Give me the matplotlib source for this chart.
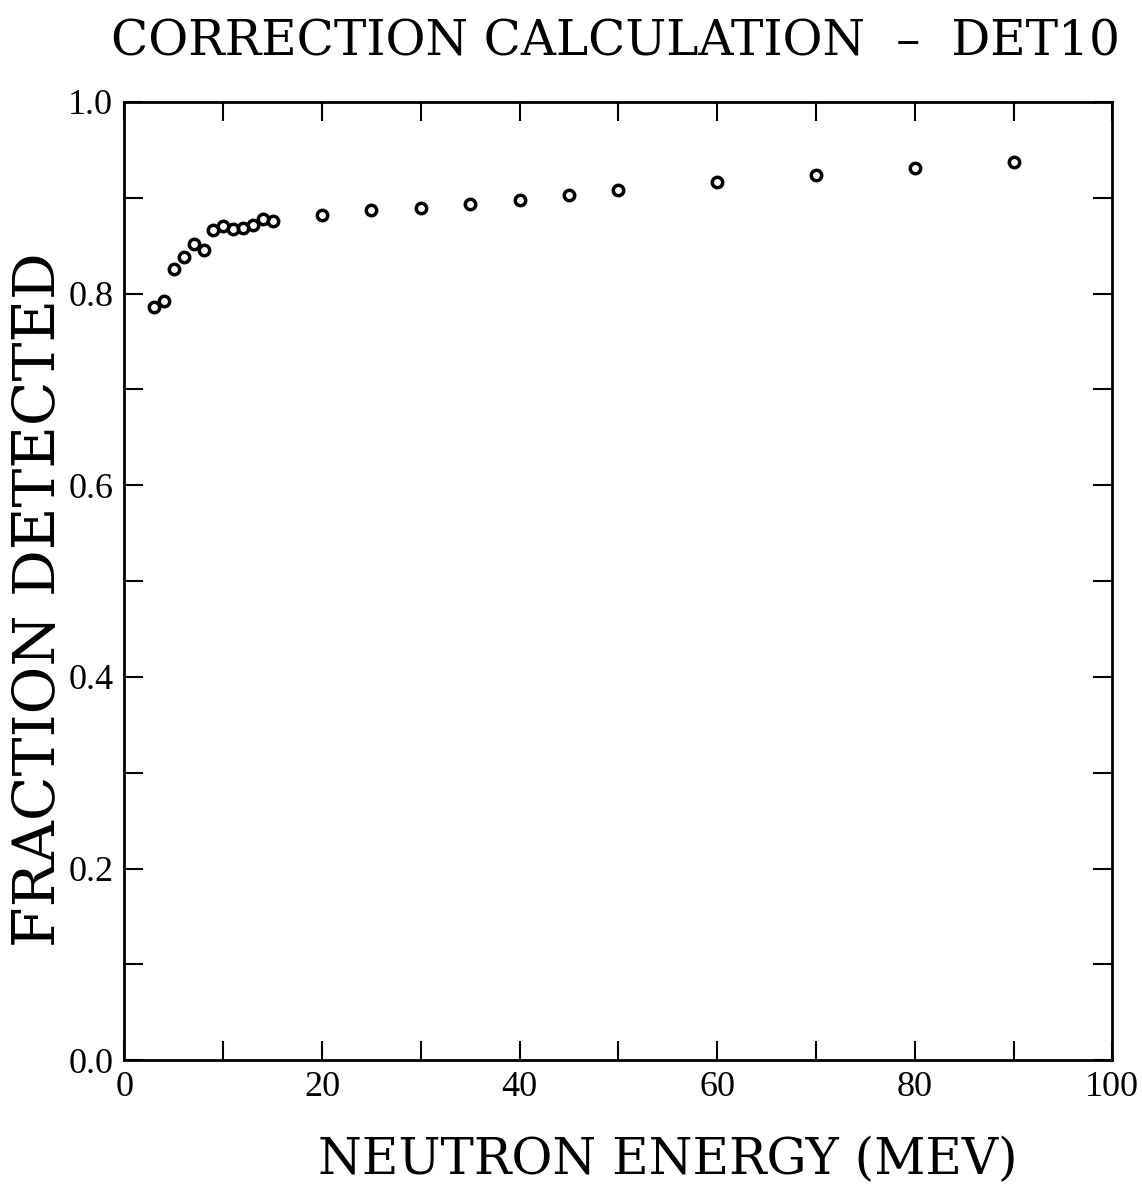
import matplotlib.pyplot as plt
from matplotlib.ticker import MultipleLocator

# neutron energy (MeV) and fraction detected
energy = [3, 4, 5, 6, 7, 8, 9, 10, 11, 12, 13, 14, 15,
          20, 25, 30, 35, 40, 45, 50, 60, 70, 80, 90]
fraction = [0.786, 0.792, 0.826, 0.838, 0.852, 0.846, 0.866, 0.871, 0.867, 0.868, 0.872, 0.878, 0.876,
            0.882, 0.887, 0.889, 0.894, 0.898, 0.903, 0.908, 0.917, 0.924, 0.931, 0.937]

x_ticks = [0, 20, 40, 60, 80, 100]
y_ticks = [0.0, 0.2, 0.4, 0.6, 0.8, 1.0]

plt.rcParams['font.family'] = 'DejaVu Serif'

fig = plt.figure(figsize=(11.42, 11.86), dpi=100)
ax = fig.add_axes([0.109, 0.106, 0.865, 0.808])

ax.plot(energy, fraction, linestyle='none', marker='o', markersize=7.5,
        markerfacecolor='none', markeredgecolor='black', markeredgewidth=2.5)

ax.set_xlim(0, 100)
ax.set_ylim(0, 1.0)
ax.set_xticks(x_ticks)
ax.set_yticks(y_ticks)
ax.set_xticklabels([str(v) for v in x_ticks])
ax.set_yticklabels([f'{v:.1f}' for v in y_ticks])
ax.xaxis.set_minor_locator(MultipleLocator(10))
ax.yaxis.set_minor_locator(MultipleLocator(0.1))

ax.tick_params(which='both', direction='in', top=True, right=True,
               length=14, width=1.5, pad=8)
for lab in ax.get_xticklabels() + ax.get_yticklabels():
    lab.set_fontfamily('Liberation Serif')
    lab.set_fontsize(26)
for s in ax.spines.values():
    s.set_linewidth(2)

# axis titles placed directly, as on the original plotter output
fig.text(0.585, 0.022, 'NEUTRON ENERGY (MEV)', ha='center', va='center', fontsize=36)
fig.text(0.034, 0.494, 'FRACTION DETECTED', ha='center', va='center',
         rotation=90, fontsize=42)
fig.text(0.539, 0.965, 'CORRECTION CALCULATION  \u2013  DET10',
         ha='center', va='center', fontsize=35)

fig.savefig('out.png', dpi=100)
